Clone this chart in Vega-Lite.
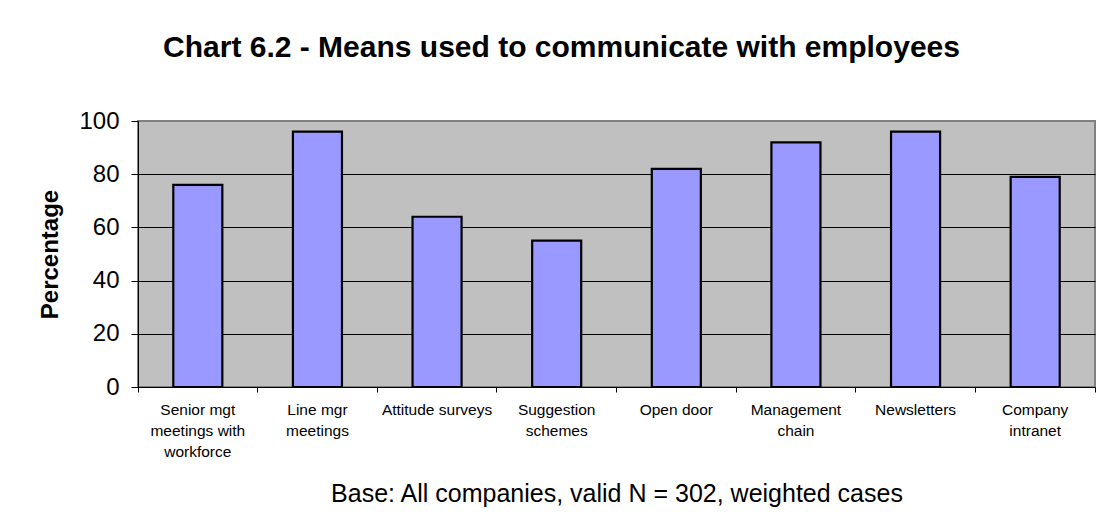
{
  "$schema": "https://vega.github.io/schema/vega-lite/v6.json",
  "width": 957,
  "height": 266,
  "autosize": {"type": "none"},
  "padding": {"left": 138, "top": 121, "right": 16, "bottom": 137},
  "background": "white",
  "title": {
    "text": "Chart 6.2 - Means used to communicate with employees",
    "font": "Liberation Sans",
    "fontSize": 30,
    "fontWeight": "bold",
    "color": "black",
    "anchor": "middle",
    "dx": -55,
    "offset": 46
  },
  "data": {
    "values": [
      {"means": "Senior mgt meetings with workforce", "percentage": 76},
      {"means": "Line mgr meetings", "percentage": 96},
      {"means": "Attitude surveys", "percentage": 64},
      {"means": "Suggestion schemes", "percentage": 55},
      {"means": "Open door", "percentage": 82},
      {"means": "Management chain", "percentage": 92},
      {"means": "Newsletters", "percentage": 96},
      {"means": "Company intranet", "percentage": 79}
    ]
  },
  "layer": [
    {
      "mark": {"type": "bar", "fill": "#9999FF", "stroke": "black", "strokeWidth": 2.2, "width": {"band": 0.41}},
      "encoding": {
        "x": {
          "field": "means",
          "type": "nominal",
          "sort": null,
          "scale": {"paddingInner": 0, "paddingOuter": 0},
          "axis": {
            "title": "Base: All companies, valid N = 302, weighted cases",
            "titleFont": "Liberation Sans",
            "titleFontSize": 25,
            "titleFontWeight": "normal",
            "titleColor": "black",
            "titlePadding": 22,
            "labelAngle": 0,
            "labelFont": "Liberation Sans",
            "labelFontSize": 15.5,
            "labelLineHeight": 21,
            "labelColor": "black",
            "labelPadding": 10,
            "labelLimit": 0,
            "bandPosition": 0,
            "labelExpr": "datum.value == 'Senior mgt meetings with workforce' ? ['Senior mgt', 'meetings with', 'workforce'] : datum.value == 'Line mgr meetings' ? ['Line mgr', 'meetings'] : datum.value == 'Suggestion schemes' ? ['Suggestion', 'schemes'] : datum.value == 'Management chain' ? ['Management', 'chain'] : datum.value == 'Company intranet' ? ['Company', 'intranet'] : datum.value",
            "tickSize": 5,
            "tickColor": "black",
            "domainColor": "black",
            "domainWidth": 1,
            "grid": false
          }
        },
        "y": {
          "field": "percentage",
          "type": "quantitative",
          "scale": {"domain": [0, 100]},
          "axis": {
            "title": "Percentage",
            "titleFont": "Liberation Sans",
            "titleFontSize": 24,
            "titleFontWeight": "bold",
            "titleColor": "black",
            "titlePadding": 16,
            "values": [0, 20, 40, 60, 80, 100],
            "labelFont": "Liberation Sans",
            "labelFontSize": 24,
            "labelColor": "black",
            "labelPadding": 12,
            "tickSize": 7,
            "tickColor": "black",
            "domainColor": "black",
            "domainWidth": 1,
            "grid": true,
            "gridColor": "black",
            "gridWidth": 1,
            "gridOpacity": {"condition": {"test": "datum.value == 100", "value": 0}, "value": 1}
          }
        }
      }
    },
    {
      "mark": {"type": "bar", "opacity": 0, "width": {"band": 0.41}},
      "encoding": {
        "x": {
          "field": "means",
          "type": "nominal",
          "sort": null,
          "axis": {
            "orient": "bottom",
            "title": null,
            "labels": false,
            "domain": false,
            "grid": false,
            "bandPosition": 1,
            "values": ["Company intranet"],
            "tickSize": 5,
            "tickColor": "black"
          }
        },
        "y": {"field": "percentage", "type": "quantitative"}
      }
    }
  ],
  "resolve": {"axis": {"x": "independent"}},
  "config": {
    "view": {"fill": "#C0C0C0", "stroke": "#808080", "strokeWidth": 2}
  }
}
